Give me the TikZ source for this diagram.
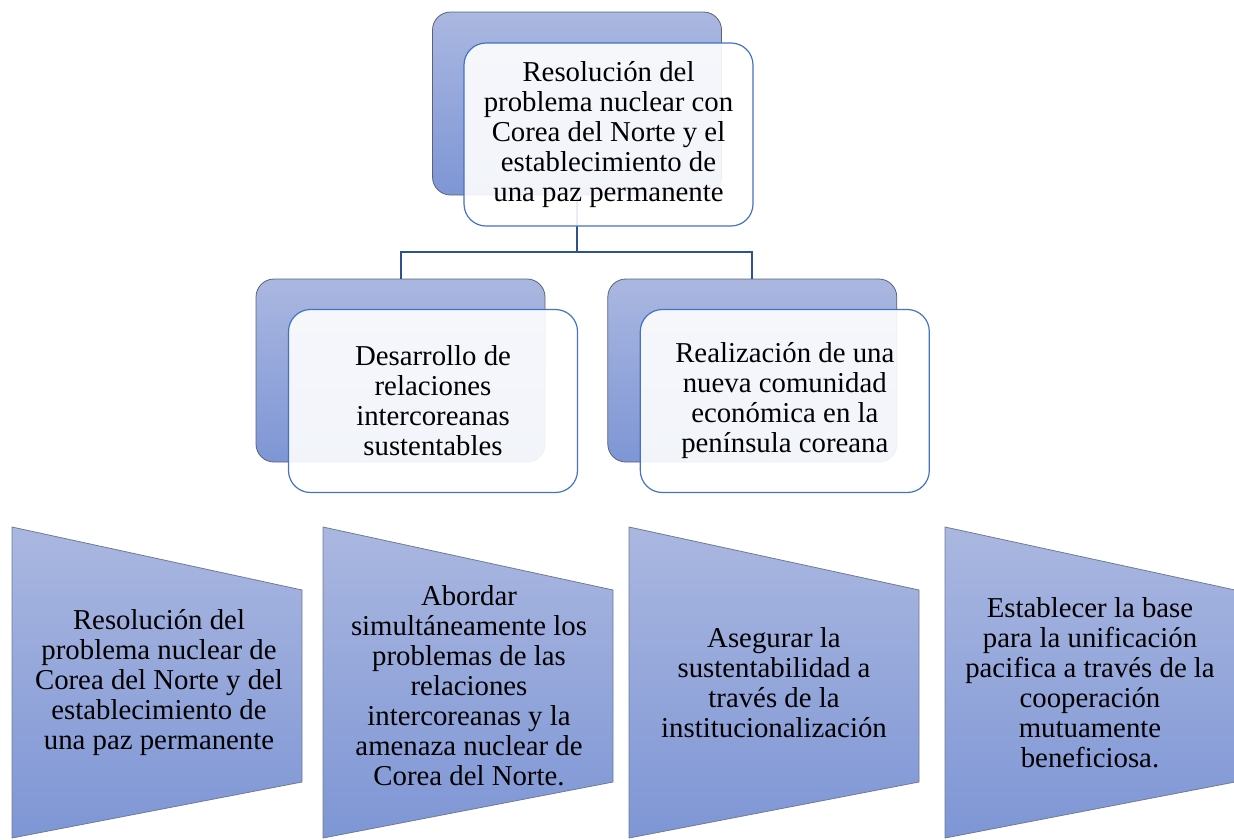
\documentclass[tikz,border=0pt]{standalone}
\usepackage{fontspec}
\setmainfont{Liberation Serif}
\usepackage{tikz}
\usetikzlibrary{positioning}
\definecolor{gradtop}{RGB}{170,183,224}
\definecolor{gradbot}{RGB}{126,150,213}
\definecolor{edgeblue}{RGB}{68,114,196}
\definecolor{linkblue}{RGB}{47,82,143}
\definecolor{backedge}{RGB}{90,98,118}
\definecolor{wedgeedge}{RGB}{110,122,150}
\tikzstyle{back} = [rectangle, rounded corners=18pt, draw=backedge, line width=0.8pt, top color=gradtop, bottom color=gradbot, minimum width=289pt, minimum height=183pt]
\tikzstyle{front} = [rectangle, rounded corners=22pt, draw=edgeblue, line width=1.2pt, fill=white, fill opacity=0.9, text opacity=1, minimum width=289pt, minimum height=183pt, text=black, text centered, align=center, font=\fontsize{28.8}{30}\selectfont]
\tikzstyle{wedge} = [draw=wedgeedge, line width=0.8pt, top color=gradtop, bottom color=gradbot]
\tikzstyle{textonly} = [draw=none, fill=none, text=black, text centered, align=center, font=\fontsize{28.8}{30}\selectfont]
\tikzstyle{link} = [draw=linkblue, line width=2pt]

\begin{document}
\begin{tikzpicture}[x=1pt, y=-1pt]
\useasboundingbox (0,0) rectangle (1234,839);

% back boxes =============================
\node[back] (topback) at (577,103.5) {};
\node[back] (leftback) at (400.5,370.5) {};
\node[back, right=62pt of leftback] (rightback) {};

% links
\path[link] (topback.south) -- ++(0,57) -| (leftback.north);
\path[link] (topback.south) -- ++(0,57) -| (rightback.north);

% front boxes ============================
\node[front] (goal) at ([shift={(31.5,31)}]topback.center) {Resolución del\\problema nuclear con\\Corea del Norte y el\\establecimiento de\\una paz permanente};
\node[front] (rel) at ([shift={(32.5,30.5)}]leftback.center) {Desarrollo de\\relaciones\\intercoreanas\\sustentables};
\node[front] (eco) at ([shift={(32.5,30.5)}]rightback.center) {Realización de una\\nueva comunidad\\económica en la\\península coreana};

% principles =============================
\foreach \x in {12,323,629,945}
  \path[wedge] (\x,527) -- (\x+290,590) -- (\x+290,782) -- (\x,838) -- cycle;
\node[textonly] (pa) at (159,683) {Resolución del\\problema nuclear de\\Corea del Norte y del\\establecimiento de\\una paz permanente};
\node[textonly] (pb) at (469,686) {Abordar\\simultáneamente los\\problemas de las\\relaciones\\intercoreanas y la\\amenaza nuclear de\\Corea del Norte.};
\node[textonly] (pc) at (774,683) {Asegurar la\\sustentabilidad a\\través de la\\institucionalización};
\node[textonly] (pd) at (1090,683) {Establecer la base\\para la unificación\\pacifica a través de la\\cooperación\\mutuamente\\beneficiosa.};

\end{tikzpicture}
\end{document}
